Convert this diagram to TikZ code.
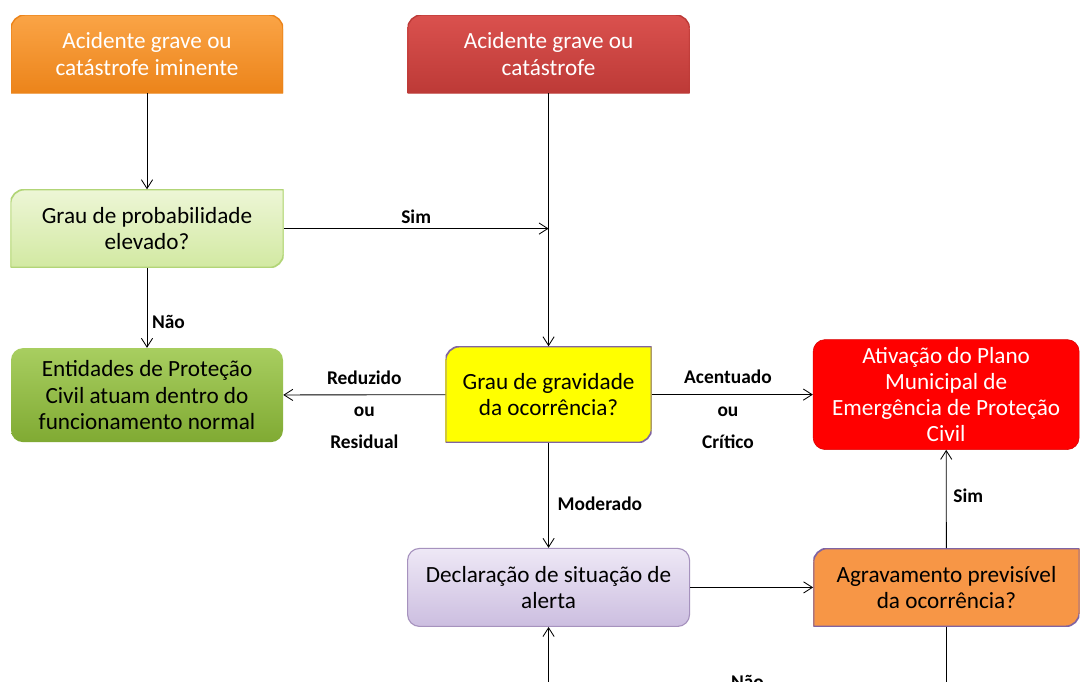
\documentclass[tikz,border=0pt]{standalone}
\usepackage{fontspec}
\setmainfont{Carlito}
\usetikzlibrary{arrows.meta}
\usetikzlibrary{positioning}

\definecolor{imtop}{HTML}{FAA446}
\definecolor{imbot}{HTML}{EC841A}
\definecolor{cattop}{HTML}{DA514E}
\definecolor{catbot}{HTML}{BD3A37}
\definecolor{probtop}{HTML}{EDF6D6}
\definecolor{probbot}{HTML}{D2E9A2}
\definecolor{probborda}{HTML}{B2D577}
\definecolor{enttop}{HTML}{A8CE60}
\definecolor{entbot}{HTML}{80AA33}
\definecolor{lilas}{HTML}{8064A2}
\definecolor{dectop}{HTML}{EEE8F6}
\definecolor{decbot}{HTML}{CCBEE0}
\definecolor{agrav}{HTML}{F79646}
\definecolor{vermelho}{HTML}{FF0000}

\tikzstyle{caixa} = [rectangle, minimum height=1.95cm, text centered, align=center, inner sep=0pt, font=\fontsize{16.5}{18.6}\selectfont]
\tikzstyle{rotulo} = [font=\bfseries\fontsize{13.8}{23}\selectfont, align=center]
\tikzstyle{arrow} = [line width=0.6pt, -{Straight Barb[length=2.2mm, width=2.8mm]}]

% caixas com so alguns cantos arredondados
\tikzset{
  cantos topo/.style n args={3}{path picture={
    \path[top color=#1, bottom color=#2, draw=#3, line width=1pt]
      (path picture bounding box.south west)
      -- ([yshift=-3.5mm]path picture bounding box.north west)
      arc[start angle=180, end angle=90, radius=3.5mm]
      -- ([xshift=-3.5mm]path picture bounding box.north east)
      arc[start angle=90, end angle=0, radius=3.5mm]
      -- (path picture bounding box.south east) -- cycle;}},
  cantos diagonal/.style n args={3}{path picture={
    \path[top color=#1, bottom color=#2, draw=#3, line width=1.2pt]
      (path picture bounding box.south west)
      -- ([yshift=-3.5mm]path picture bounding box.north west)
      arc[start angle=180, end angle=90, radius=3.5mm]
      -- (path picture bounding box.north east)
      -- ([yshift=3.5mm]path picture bounding box.south east)
      arc[start angle=0, end angle=-90, radius=3.5mm]
      -- cycle;}},
}

\begin{document}
\begin{tikzpicture}
\path[use as bounding box, fill=white] (0,0) rectangle (27,-17.025);
\clip (0,0) rectangle (27,-17.025);

\node (iminente) [caixa, minimum width=6.8cm, text=white, cantos topo={imtop}{imbot}{imbot}] at (3.675,-1.35) {Acidente grave ou\\catástrofe iminente};
\node (catastrofe) [caixa, minimum width=7.05cm, text=white, cantos topo={cattop}{catbot}{catbot}, right=3.1cm of iminente] {Acidente grave ou\\catástrofe};

\node (prob) [caixa, minimum width=6.825cm, cantos diagonal={probtop}{probbot}{probborda}, below=2.4cm of iminente] {Grau de probabilidade\\elevado?};
\node (entidades) [caixa, minimum width=6.8cm, minimum height=2.35cm, rounded corners=3mm, top color=enttop, bottom color=entbot, below=2cm of prob] {Entidades de Proteção\\Civil atuam dentro do\\funcionamento normal};

\node (gravidade) [caixa, minimum width=5.15cm, minimum height=2.4cm, cantos diagonal={yellow}{yellow}{lilas}, below=6.325cm of catastrofe] {Grau de gravidade\\da ocorrência?};
\node (ativacao) [caixa, minimum width=6.65cm, minimum height=2.75cm, rounded corners=3mm, fill=vermelho, draw=red!85!black, text=white, right=4.025cm of gravidade] {Ativação do Plano\\Municipal de\\Emergência de Proteção\\Civil};

\node (declaracao) [caixa, minimum width=7.05cm, rounded corners=3mm, top color=dectop, bottom color=decbot, draw=lilas!70, line width=0.8pt, below=2.625cm of gravidade] {Declaração de situação de\\alerta};
\node (agravamento) [caixa, minimum width=6.65cm, cantos diagonal={agrav}{agrav}{lilas}, right=3.075cm of declaracao] {Agravamento previsível\\da ocorrência?};

\coordinate (juncao) at (prob.east -| catastrofe.south);
\coordinate [below=1.675cm of agravamento.south] (retorno);

\draw [arrow] (iminente) -- (prob);
\draw [arrow] (catastrofe) -- (gravidade);
\draw [arrow] (prob.east) -- node[rotulo, above] {Sim} (juncao);
\draw [arrow] (prob) -- node[rotulo, right, pos=0.675] {Não} (entidades);

\draw [arrow] (gravidade) -- node[rotulo, yshift=-0.37cm] {Reduzido\\ou\\Residual} (entidades);
\draw [arrow] (gravidade) -- node[rotulo, yshift=-0.37cm, xshift=-0.11cm] {Acentuado\\ou\\Crítico} (ativacao);
\draw [arrow] (gravidade) -- node[rotulo, right, pos=0.58, xshift=0.1cm] {Moderado} (declaracao);

\draw [arrow] (declaracao) -- (agravamento);
\draw [arrow] (agravamento) -- node[rotulo, right, pos=0.535, xshift=0.05cm] {Sim} (ativacao);
\draw [arrow] (agravamento) -- (retorno) -| node[rotulo, above, pos=0.25] {Não} (declaracao);
\end{tikzpicture}
\end{document}
